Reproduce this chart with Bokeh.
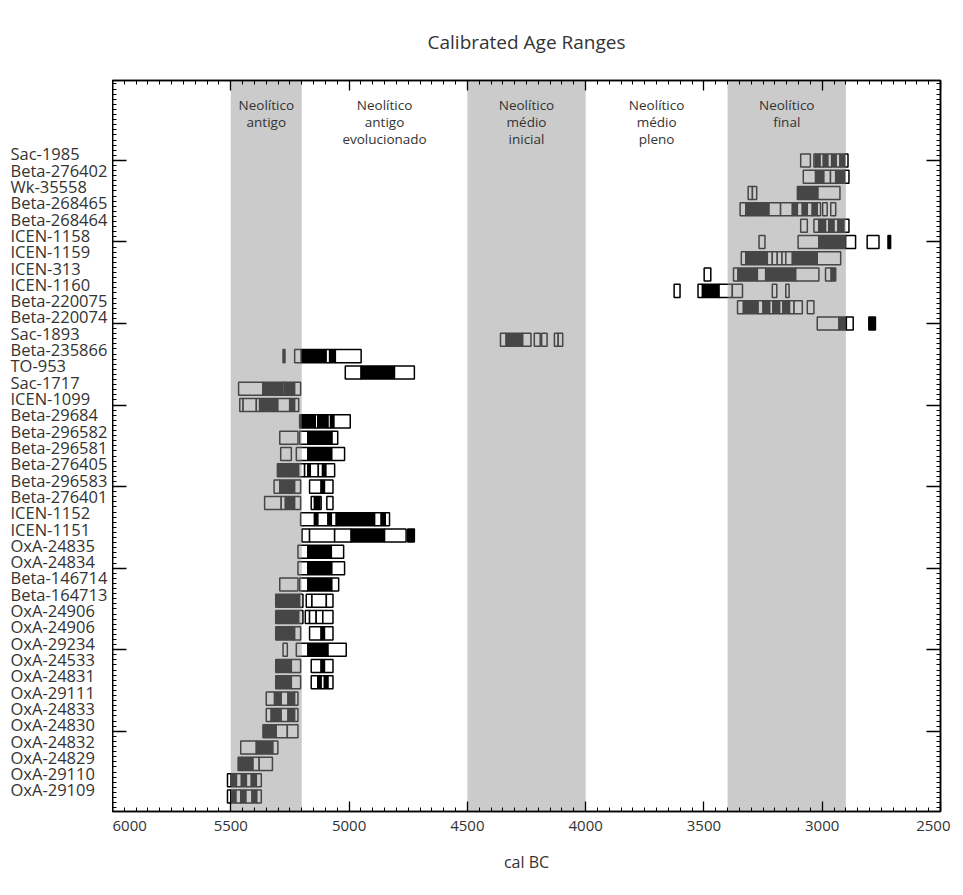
from bokeh.plotting import figure
from bokeh.models import Range1d, LinearAxis, FixedTicker, ColumnDataSource
from bokeh.layouts import row
from bokeh.core.properties import value
from bokeh.embed import file_html
from bokeh.resources import INLINE

# ---------------- data ----------------
samples = ["Sac-1985", "Beta-276402", "Wk-35558", "Beta-268465", "Beta-268464",
           "ICEN-1158", "ICEN-1159", "ICEN-313", "ICEN-1160", "Beta-220075",
           "Beta-220074", "Sac-1893", "Beta-235866", "TO-953", "Sac-1717",
           "ICEN-1099", "Beta-29684", "Beta-296582", "Beta-296581", "Beta-276405",
           "Beta-296583", "Beta-276401", "ICEN-1152", "ICEN-1151", "OxA-24835",
           "OxA-24834", "Beta-146714", "Beta-164713", "OxA-24906", "OxA-24906",
           "OxA-29234", "OxA-24533", "OxA-24831", "OxA-29111", "OxA-24833",
           "OxA-24830", "OxA-24832", "OxA-24829", "OxA-29110", "OxA-29109"]

# range boundaries (cal BC) per sample; pattern: w = open box, k = filled box, ' ' = gap
box_edges = [
    [3091, 3050, 3035, 3028, 3009, 2995, 2976, 2960, 2941, 2925, 2905, 2891],
    [3080, 3028, 2993, 2965, 2943, 2905, 2887],
    [3313, 3295, 3277, 3105, 3018, 2925],
    [3347, 3323, 3225, 3176, 3126, 3105, 3084, 3063, 3042, 3021, 3007, 2998, 2979, 2964, 2943],
    [3091, 3063, 3035, 3014, 2986, 2972, 2950, 2933, 2908, 2887],
    [3267, 3242, 3102, 3014, 2901, 2859, 2810, 2760, 2722, 2711],
    [3342, 3323, 3232, 3211, 3190, 3170, 3154, 3126, 3021, 2922],
    [3499, 3471, 3375, 3356, 3274, 3239, 3112, 3014, 2986, 2962, 2943],
    [3626, 3601, 3525, 3506, 3436, 3380, 3337, 3211, 3192, 3154, 3140],
    [3358, 3333, 3271, 3250, 3222, 3208, 3180, 3166, 3138, 3119, 3084, 3063, 3035],
    [3021, 2929, 2898, 2869, 2803, 2775],
    [4360, 4336, 4266, 4231, 4217, 4192, 4186, 4163, 4132, 4116, 4097],
    [5279, 5271, 5230, 5202, 5097, 5082, 5058, 4949],
    [5016, 4949, 4808, 4724],
    [5467, 5364, 5279, 5272, 5230, 5205],
    [5462, 5448, 5392, 5378, 5301, 5251, 5230, 5213],
    [5209, 5143, 5132, 5089, 5078, 5064, 4995],
    [5293, 5216, 5209, 5174, 5072, 5048],
    [5289, 5244, 5223, 5174, 5073, 5019],
    [5303, 5213, 5188, 5174, 5164, 5130, 5112, 5098, 5061],
    [5317, 5293, 5230, 5205, 5167, 5118, 5104, 5068],
    [5357, 5287, 5269, 5230, 5205, 5160, 5146, 5125, 5118, 5094, 5068],
    [5205, 5146, 5132, 5089, 5075, 5054, 4892, 4864, 4847, 4829],
    [5199, 5167, 5061, 4991, 4850, 4759, 4752, 4724],
    [5216, 5174, 5075, 5023],
    [5216, 5174, 5073, 5019],
    [5293, 5216, 5209, 5174, 5073, 5044],
    [5310, 5209, 5195, 5181, 5157, 5096, 5068],
    [5310, 5213, 5195, 5185, 5167, 5139, 5111, 5068],
    [5310, 5230, 5205, 5167, 5118, 5104, 5068],
    [5279, 5261, 5223, 5174, 5089, 5012],
    [5310, 5244, 5205, 5160, 5118, 5104, 5068],
    [5310, 5244, 5205, 5160, 5132, 5118, 5104, 5089, 5068],
    [5350, 5315, 5287, 5258, 5230, 5216],
    [5350, 5329, 5287, 5258, 5230, 5216],
    [5364, 5308, 5261, 5216],
    [5458, 5392, 5322, 5301],
    [5469, 5406, 5380, 5324],
    [5514, 5498, 5476, 5455, 5434, 5413, 5392, 5371],
    [5514, 5500, 5478, 5458, 5436, 5410, 5390, 5371],
]
box_fills = [
    "w wkwkwkwkw", "wkwwkw", "ww kw", "wkwwkwkwkw w w", "w wkwkwkw",
    "w wkw w k", "wkwwwwwkw", "w wkwkw wk", "w wkww w w", "wkwkwkwkww w",
    "wkw k", "wkw w w ww", "k wkwkw", "wkw", "wkwkw",
    "wwwkwkw", "kwkwkw", "w wkw", "w wkw", "kwwkwwkw",
    "wkw wkw", "wwkw wkw w", "wkwkwkwkw", "wwwkw k", "wkw",
    "wkw", "w wkw", "kw www", "kw wwww", "kw wkw",
    "w wkw", "kw wkw", "kw wkwkw", "wkwkw", "wkwkw",
    "kww", "wkw", "kww", "wkwkwkw", "wkwkwkw",
]

band_start = [5500, 5200, 4500, 4000, 3400]
band_end = [5200, 4500, 4000, 3400, 2900]
band_shaded = [True, False, True, False, True]
band_names = [["Neolítico", "antigo"],
              ["Neolítico", "antigo", "evolucionado"],
              ["Neolítico", "médio", "inicial"],
              ["Neolítico", "médio", "pleno"],
              ["Neolítico", "final"]]

x_ticks = [6000, 5500, 5000, 4500, 4000, 3500, 3000, 2500]
x_minor = list(range(2500, 6001, 50))

# ---------------- layout constants ----------------
n = len(samples)
X_LO, X_HI = 6000, 2500
Y_LO, Y_HI = 0.08, 44.9
FRAME_W, FRAME_H = 828, 731
TOP, BOTTOM = 80, 74
LABEL_W = 112
PX_PER_ROW = FRAME_H / (Y_HI - Y_LO)
HALF = 0.4

# ---------------- build box table ----------------
L, R, T, B, F = [], [], [], [], []
for i, (edges, pat) in enumerate(zip(box_edges, box_fills)):
    y = n - i
    for j, c in enumerate(pat):
        if c == " ":
            continue
        L.append(edges[j]); R.append(edges[j + 1])
        T.append(y + HALF); B.append(y - HALF)
        F.append("black" if c == "k" else "white")
boxes = ColumnDataSource(dict(left=L, right=R, top=T, bottom=B, fill=F))

yrange = Range1d(Y_LO, Y_HI)

p = figure(frame_width=FRAME_W, frame_height=FRAME_H, output_backend="svg",
           toolbar_location=None, x_range=Range1d(X_LO, X_HI), y_range=yrange,
           x_axis_location=None, y_axis_location=None,
           min_border_left=0, min_border_right=10, min_border_top=TOP,
           min_border_bottom=BOTTOM)
p.xgrid.visible = False
p.ygrid.visible = False
p.outline_line_color = "black"
p.outline_line_width = 1.5
p.background_fill_color = "white"
p.border_fill_color = "white"

p.title.text = "Calibrated Age Ranges"
p.title.align = "center"
p.title.text_font = "Open Sans"
p.title.text_font_size = "19px"
p.title.text_font_style = "normal"
p.title.text_color = "#333333"
p.title.standoff = 52

p.quad(left="left", right="right", top="top", bottom="bottom", source=boxes,
       fill_color="fill", line_color="black", line_width=1.5)

# translucent period bands drawn over the boxes
sl = [s for s, sh in zip(band_start, band_shaded) if sh]
sr = [e for e, sh in zip(band_end, band_shaded) if sh]
p.quad(left=sl, right=sr, bottom=-10, top=100, fill_color="#929292",
       fill_alpha=0.48, line_color=None)

tx, ty, tt = [], [], []
for s, e, names in zip(band_start, band_end, band_names):
    for k, nm in enumerate(names):
        tx.append((s + e) / 2)
        ty.append(Y_HI - (24 + 17 * k) / PX_PER_ROW)
        tt.append(nm)
p.text(x=tx, y=ty, text=tt, text_align="center", text_baseline="middle",
       text_font=value("Open Sans"), text_font_size="13.5px", text_color="#333333")

# ---------------- axes ----------------
xt = FixedTicker(ticks=x_ticks, minor_ticks=x_minor)
xb = LinearAxis(ticker=xt, axis_label="cal BC")
xtop = LinearAxis(ticker=xt, major_label_overrides={t: "" for t in x_ticks},
                  major_label_standoff=0)
for ax in (xb, xtop):
    ax.major_tick_in = 10; ax.major_tick_out = 0
    ax.minor_tick_in = 4; ax.minor_tick_out = 0
    ax.axis_line_width = 1.5
    ax.major_tick_line_width = 1.3
    ax.minor_tick_line_width = 1
xb.major_label_text_font = "Open Sans"
xb.major_label_text_font_size = "15px"
xb.major_label_text_color = "#333333"
xb.major_label_standoff = 9
xb.axis_label_text_font = "Open Sans"
xb.axis_label_text_font_size = "16px"
xb.axis_label_text_font_style = "normal"
xb.axis_label_text_color = "#333333"
xb.axis_label_standoff = 17
p.add_layout(xb, "below")
p.add_layout(xtop, "above")

y_major = [40, 35, 30, 25, 20, 15, 10, 5]
yt = FixedTicker(ticks=y_major, minor_ticks=[m * 5 / 16 for m in range(0, 144)])
yl = LinearAxis(ticker=yt, major_label_overrides={t: "" for t in y_major},
                major_label_standoff=0)
yr = LinearAxis(ticker=yt, major_label_overrides={t: "" for t in y_major},
                major_label_standoff=0)
for ax in (yl, yr):
    ax.major_tick_in = 14; ax.major_tick_out = 0
    ax.minor_tick_in = 4; ax.minor_tick_out = 0
    ax.axis_line_width = 1.5
    ax.major_tick_line_width = 1.3
    ax.minor_tick_line_width = 1
p.add_layout(yl, "left")
p.add_layout(yr, "right")

# ---------------- sample names (left-aligned column sharing the y range) ----------------
lab = figure(frame_width=LABEL_W, frame_height=FRAME_H, output_backend="svg",
             toolbar_location=None, x_range=Range1d(0, LABEL_W), y_range=yrange,
             x_axis_location=None, y_axis_location=None,
             min_border_left=0, min_border_right=0, min_border_top=TOP,
             min_border_bottom=BOTTOM)
lab.xgrid.visible = False
lab.ygrid.visible = False
lab.outline_line_color = None
lab.background_fill_color = "white"
lab.border_fill_color = "white"
lab.text(x=[10] * n, y=[n - i + HALF for i in range(n)], text=samples,
         text_align="left", text_baseline="middle", text_font=value("Open Sans"),
         text_font_size="16.5px", text_color="#333333")

layout = row(lab, p, spacing=0)
open("out.html", "w").write(file_html(layout, INLINE))
